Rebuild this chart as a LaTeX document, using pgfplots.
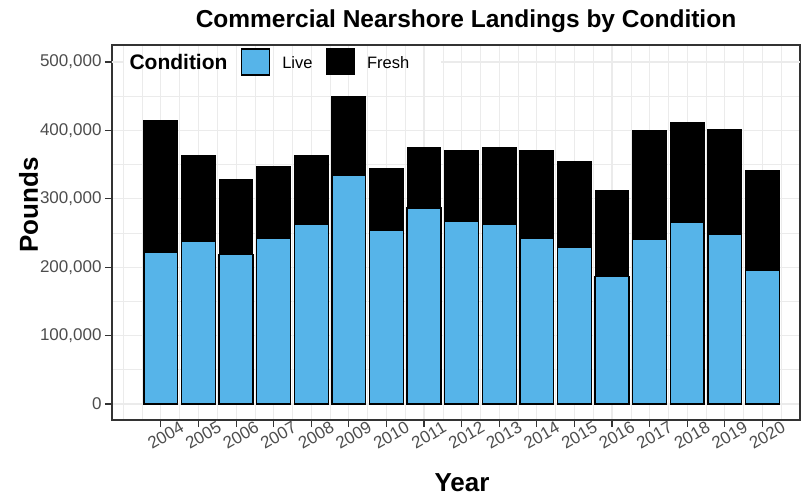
\documentclass[border=0pt]{standalone}
\usepackage{fontspec}
\setmainfont{Liberation Sans}
\usepackage{pgfplots}
\pgfplotsset{compat=1.18}

\definecolor{liveblue}{HTML}{56B4E9}
\definecolor{grey20}{HTML}{333333}
\definecolor{grey30}{HTML}{4D4D4D}
\definecolor{grey92}{HTML}{EBEBEB}

\begin{document}
\begin{tikzpicture}
\path[use as bounding box] (-112pt,-78pt) rectangle (697pt,420pt);
\begin{axis}[
  scale only axis,
  width=688pt, height=375pt,
  ybar stacked, bar width=0.9,
  xmin=-1.3, xmax=17.0,
  ymin=-23400, ymax=524900,
  xtick={0,...,16},
  xticklabels={2004,2005,2006,2007,2008,2009,2010,2011,2012,2013,2014,2015,2016,2017,2018,2019,2020},
  minor xtick={-1,-0.5,0.5,1.5,2.5,3.5,4.5,5.5,6.5,7.5,8.5,9.5,10.5,11.5,12.5,13.5,14.5,15.5,16.5},
  ytick={0,100000,200000,300000,400000},
  extra y ticks={500000},
  extra y tick style={grid=none},
  minor ytick={50000,150000,250000,350000,450000},
  scaled y ticks=false,
  /pgf/number format/.cd, fixed, 1000 sep={,}, assume math mode=true, /pgfplots/.cd,
  grid=both,
  major grid style={grey92, line width=1.1pt},
  minor grid style={grey92, line width=0.6pt},
  tick align=outside, xtick pos=bottom, ytick pos=left,
  major tick length=7pt, minor tick length=0pt,
  tick style={grey20, line width=1.1pt},
  axis line style={grey20, line width=1.1pt},
  ticklabel style={font=\fontsize{17}{20}\selectfont, text=grey30},
  xticklabel style={rotate=30, anchor=north},
  legend columns=3,
  legend cell align=left,
  legend style={draw=none, fill=none, anchor=west,
    at={(axis description cs:0.0019,0.955)},
    inner xsep=4pt, inner ysep=1pt,
    font=\fontsize{16.5}{20}\selectfont,
    /tikz/every even column/.append style={column sep=11.5pt},
    /tikz/every odd column/.append style={column sep=10pt}},
]
% 500,000 grid line, hidden behind the legend
\draw[grey92, line width=1.1pt] (axis cs:-1.3,500000) -- (axis cs:-1.02,500000);
\draw[grey92, line width=1.1pt] (axis cs:7.45,500000) -- (axis cs:17.0,500000);

\addlegendimage{empty legend}
\addlegendentry{\fontsize{21}{24}\selectfont\bfseries Condition}

% Live (bottom)
\addplot[fill=liveblue, draw=black, line width=1.3pt,
  legend image code/.code={\draw[fill=liveblue, draw=black, line width=1.3pt] (0pt,-12pt) rectangle (28pt,14pt);}]
coordinates {
  (0,221700) (1,237800) (2,219000) (3,241700) (4,262700) (5,334800)
  (6,253800) (7,286500) (8,267500) (9,262700) (10,241700) (11,229000)
  (12,186000) (13,240700) (14,265000) (15,248000) (16,195000) };
\addlegendentry{Live}

% Fresh (top)
\addplot[fill=black, draw=black, line width=1.0pt,
  legend image code/.code={\draw[fill=black, draw=black, line width=1.0pt] (0pt,-12pt) rectangle (28pt,14pt);}]
coordinates {
  (0,193300) (1,126200) (2,109000) (3,105300) (4,101300) (5,114200)
  (6,90700) (7,88500) (8,102500) (9,112300) (10,129300) (11,126000)
  (12,126000) (13,159900) (14,146000) (15,153600) (16,146000) };
\addlegendentry{Fresh}
\end{axis}

\node[font=\fontsize{24.5}{28}\selectfont\bfseries, anchor=base] at (354pt,392.5pt)
  {Commercial Nearshore Landings by Condition};
\node[font=\fontsize{26}{30}\selectfont\bfseries, anchor=base, rotate=90] at (-74pt,215pt) {Pounds};
\node[font=\fontsize{26}{30}\selectfont\bfseries, anchor=base] at (350pt,-71pt) {Year};
\end{tikzpicture}
\end{document}
